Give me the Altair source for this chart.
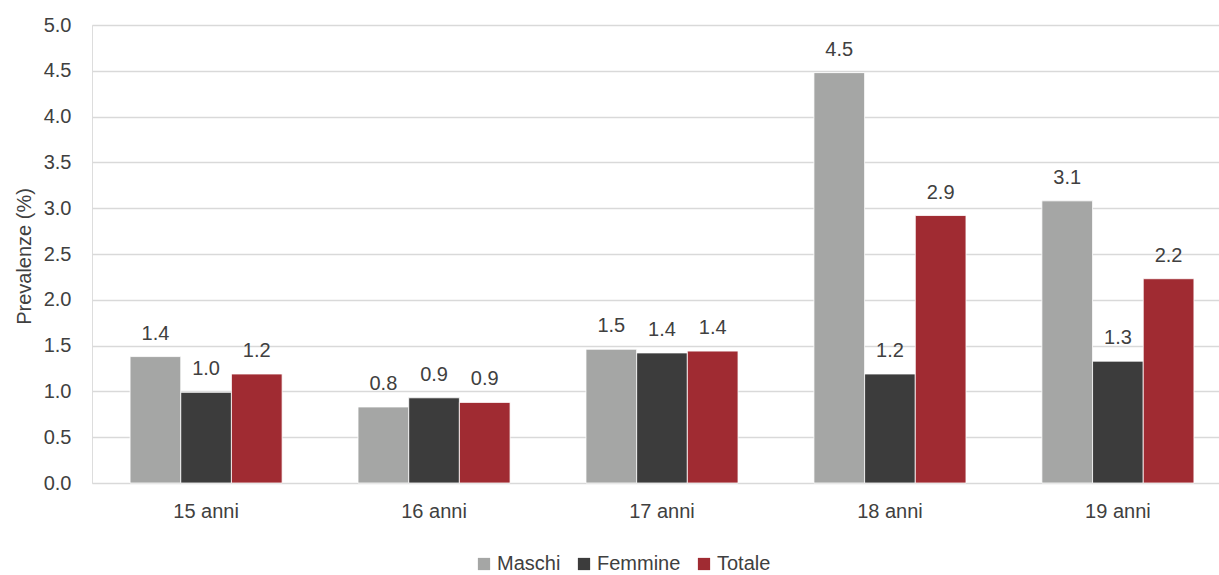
import altair as alt
import pandas as pd

# Prevalence by age and sex
ages = ["15 anni", "16 anni", "17 anni", "18 anni", "19 anni"]
series = ["Maschi", "Femmine", "Totale"]
maschi = [1.38, 0.83, 1.46, 4.48, 3.08]
femmine = [0.99, 0.93, 1.42, 1.19, 1.33]
totale = [1.19, 0.88, 1.44, 2.92, 2.23]
colors = ["#A5A6A5", "#3C3C3C", "#A02B32"]
y_ticks = [0.0, 0.5, 1.0, 1.5, 2.0, 2.5, 3.0, 3.5, 4.0, 4.5, 5.0]

rows = []
for name, vals in zip(series, [maschi, femmine, totale]):
    for age, v in zip(ages, vals):
        rows.append({"eta": age, "serie": name, "valore": v})
df = pd.DataFrame(rows)

FONT = "Liberation Sans, Arial, sans-serif"
TXT = "#404040"
FS = 20

base = alt.Chart(df).encode(
    x=alt.X(
        "eta:N",
        sort=ages,
        title=None,
        # category band runs a little past the right edge of the grid
        scale=alt.Scale(paddingInner=0.333, paddingOuter=0.167, range=[0, 1140]),
        axis=alt.Axis(
            labelAngle=0,
            labelFont=FONT,
            labelFontSize=FS,
            labelColor=TXT,
            labelPadding=18,
            ticks=False,
            domain=False,
            grid=False,
        ),
    ),
    xOffset=alt.XOffset("serie:N", sort=series, scale=alt.Scale(paddingInner=0, paddingOuter=0)),
    y=alt.Y(
        "valore:Q",
        scale=alt.Scale(domain=[0, 5], nice=False),
        axis=alt.Axis(
            values=y_ticks,
            format=".1f",
            title="Prevalenze (%)",
            titleFont=FONT,
            titleFontSize=20,
            titleFontWeight="normal",
            titleColor=TXT,
            titleX=-58,
            titleY=231,
            titleAngle=-90,
            titleBaseline="bottom",
            labelFont=FONT,
            labelFontSize=FS,
            labelColor=TXT,
            labelPadding=21,
            ticks=False,
            domain=False,
            gridColor="#D9D9D9",
            gridWidth=1.5,
        ),
    ),
)

bars = base.mark_bar(stroke="#ffffff", strokeWidth=0.8).encode(
    color=alt.Color(
        "serie:N",
        sort=series,
        scale=alt.Scale(domain=series, range=colors),
        legend=alt.Legend(
            title=None,
            orient="none",
            direction="horizontal",
            legendX=382,
            legendY=529,
            symbolType="square",
            symbolSize=150,
            symbolStrokeWidth=0,
            labelFont=FONT,
            labelFontSize=FS,
            labelColor=TXT,
            labelOffset=3,
            columnPadding=13,
        ),
    )
)

labels = base.mark_text(
    baseline="alphabetic", dy=-17, font=FONT, fontSize=FS, color=TXT
).encode(text=alt.Text("valore:Q", format=".1f"))

chart = (
    alt.layer(bars, labels)
    .properties(
        width=1127,
        height=458,
        padding={"left": 92, "top": 25, "right": 0, "bottom": 92},
        autosize=alt.AutoSizeParams(type="none"),
    )
    .configure_view(stroke=None)
    .configure(background="white")
)

chart.save("out.html", embed_options={"renderer": "svg", "actions": False})
